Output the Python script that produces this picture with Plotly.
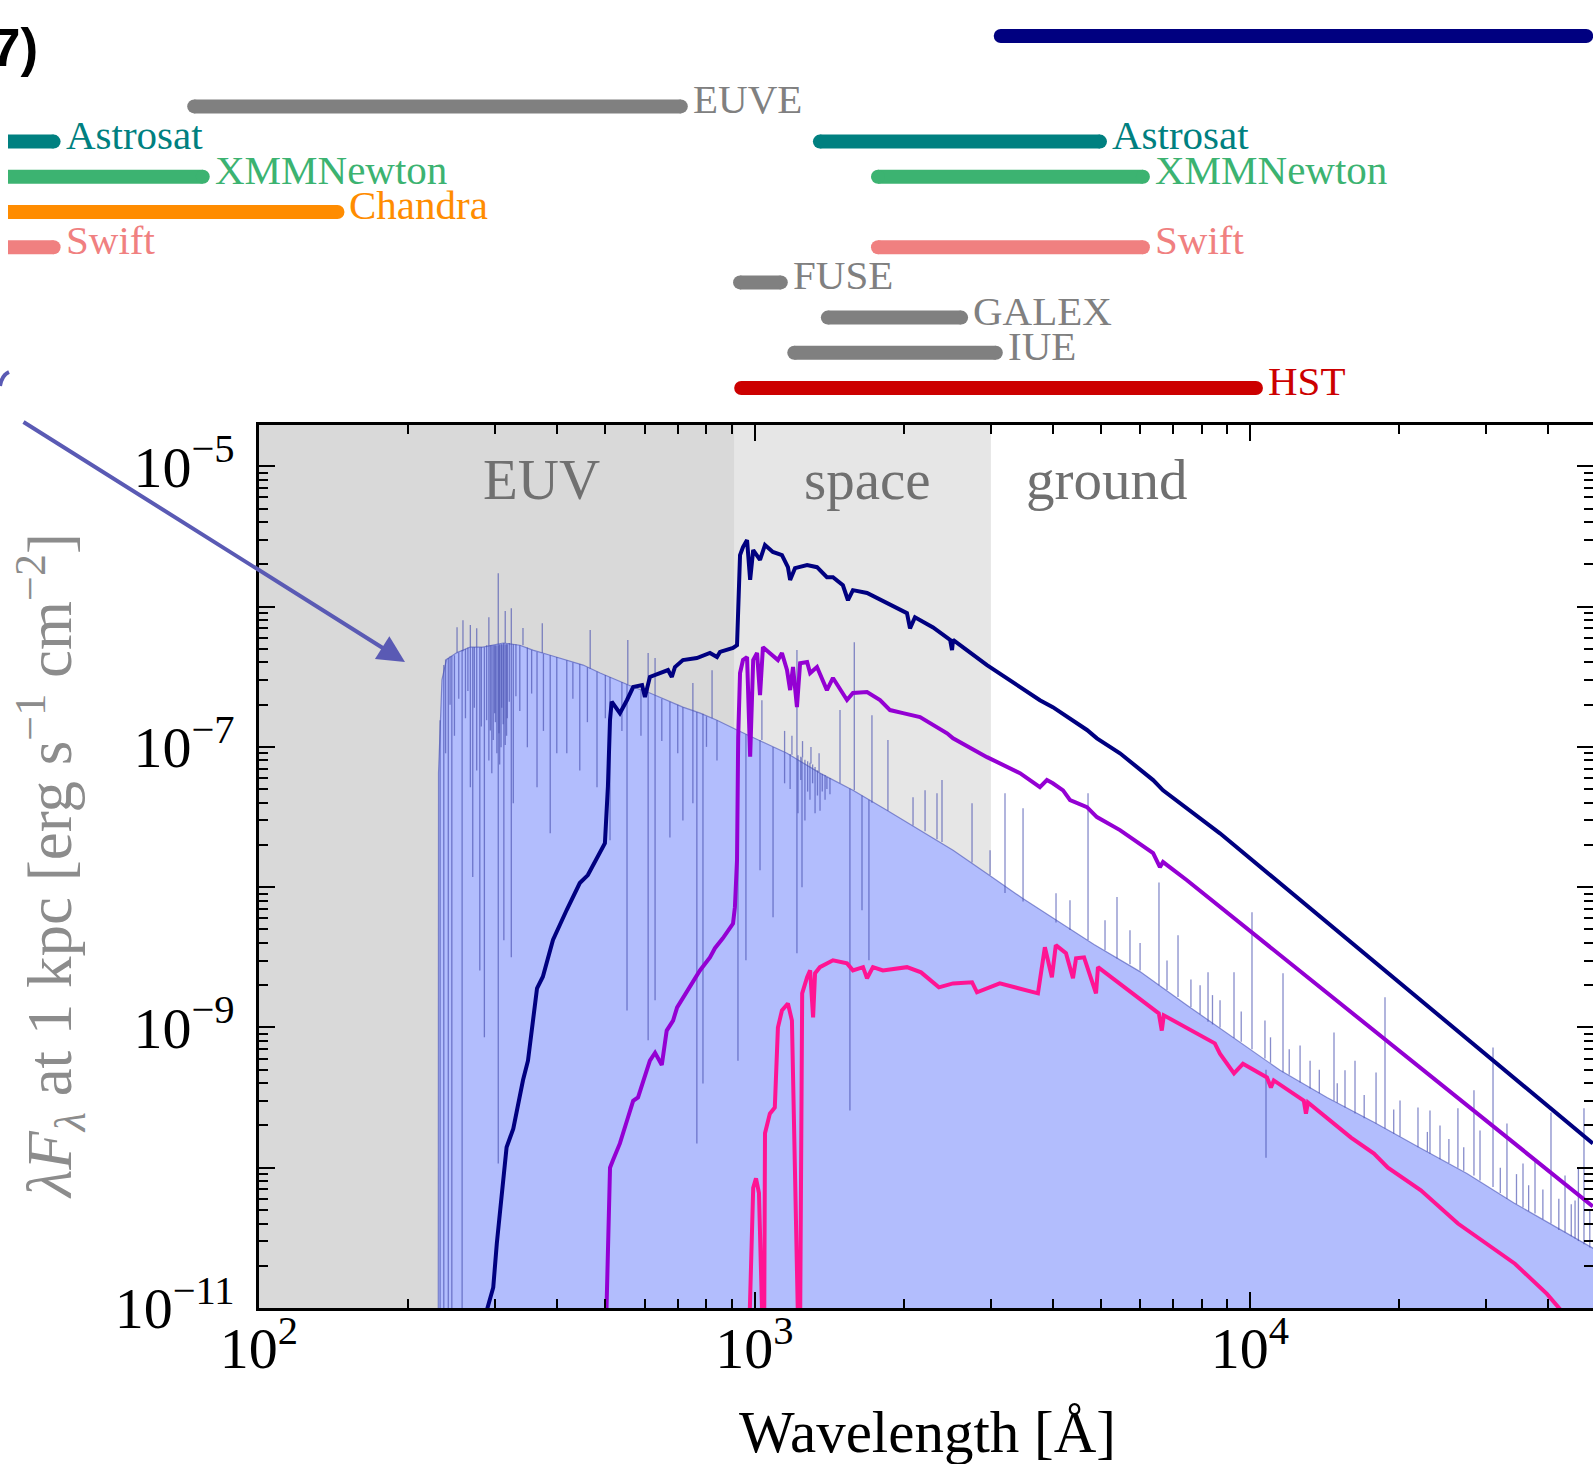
import numpy as np
import plotly.graph_objects as go

# ---------------- data ----------------
# instrument wavelength coverage [Angstrom]
inst_names = ["", "EUVE", "Astrosat", "XMMNewton", "Chandra", "Swift",
              "Astrosat", "XMMNewton", "Swift", "FUSE", "GALEX", "IUE", "HST"]
inst_lo = [3140, 74, 1.5, 1.0, 1.2, 1.2, 1355, 1775, 1775, 935, 1406, 1203, 940]
inst_hi = [47700, 710, 38.5, 77, 144, 38.5, 4980, 6080, 6080, 1130, 2612, 3069, 10280]
inst_row = [0, 2, 3, 4, 5, 6, 3, 4, 6, 7, 8, 9, 10]
inst_color = ["#000080", "#808080", "#008080", "#3cb371", "#ff8c00", "#f08080",
              "#008080", "#3cb371", "#f08080", "#808080", "#808080", "#808080", "#cc0000"]

# wavelength regimes
region_names = ["EUV", "space", "ground"]
region_edges = [100, 912, 3000, 60000]
region_label_lam = [371, 1687, 5140]

# hot star spectrum (filled) - continuum envelope
env_lam = [230, 230.3, 234, 239, 251, 267, 283, 311, 336, 357,
           387, 418, 451, 488, 528, 569, 615, 666, 717, 777,
           840, 922, 994, 1163, 1356, 1580, 1850, 2158, 2516, 3013,
           3480, 4844, 5996, 7460, 9283, 11500, 14300, 17790, 22010, 27400,
           34100, 42500, 50800]
env_flux = [5e-12, 6.5e-8, 3.0e-7, 4.2e-7, 4.7e-7, 5.15e-7, 5.15e-7, 5.5e-7, 5.3e-7, 4.9e-7,
            4.5e-7, 4.16e-7, 3.83e-7, 3.36e-7, 3.0e-7, 2.67e-7, 2.42e-7, 2.16e-7, 1.92e-7, 1.74e-7,
            1.55e-7, 1.32e-7, 1.17e-7, 9.0e-8, 6.5e-8, 4.9e-8, 3.53e-8, 2.54e-8, 1.83e-8, 1.18e-8,
            8.3e-9, 3.9e-9, 2.5e-9, 1.44e-9, 8.38e-10, 4.95e-10, 3.17e-10, 2.11e-10, 1.39e-10, 9.1e-11,
            5.6e-11, 3.56e-11, 2.5e-11]

# individual lines of the hot star spectrum: wavelength, continuum level, line tip
spike_lam = [232, 236, 241, 245, 257, 267, 270, 275, 279, 285,
             288, 291, 293, 297, 299, 302, 304, 305, 308, 311,
             312, 314, 317, 323, 326, 348, 364, 387, 399, 418,
             444, 481, 511, 553, 610, 630, 675, 717, 751, 765,
             787, 840, 926, 961, 1026, 1090, 1218, 1224, 1247, 1264,
             1294, 1325, 1356, 1388, 1420, 1558, 1648, 1702, 10772,
             238, 243, 248, 253, 261, 264, 272, 281, 295, 300,
             306, 309, 316, 320, 330, 336, 355, 375, 430, 460,
             500, 540, 590, 650, 700, 800, 1150, 1180, 1240, 1280,
             1310, 1340, 1370, 1400,
             251, 258, 267, 275, 291, 304, 314, 323, 341, 373,
             466, 555, 610, 630, 751, 821, 1035, 1218, 1488, 1590,
             1726, 1859, 2089, 2209, 2335, 2390, 2748, 2988, 3203, 3483,
             4060, 4332, 4711, 5098, 5390, 5725, 6551, 7157, 7930, 8228,
             8700, 9284, 10093, 10720, 11658, 12620, 13220, 14775, 15550, 16290,
             17963, 18726, 20080, 21828, 23080, 24180, 26280, 28314, 29120, 30936,
             33006, 35560, 37600, 40500, 43230, 45290, 47210,
             1150, 1190, 1250, 1300, 1350, 6000, 6800, 7600, 8400, 9600,
             11000, 12000, 13800, 15000, 17000, 19500, 22800, 25200, 27000, 32000,
             34500, 36500, 39000, 42000, 44500, 46000, 48500]
spike_base = [1.55e-7, 3.83e-7, 4.3e-7, 4.44e-7, 4.9e-7, 5.14e-7, 5.14e-7, 5.14e-7, 5.14e-7, 5.14e-7,
              5.3e-7, 5.3e-7, 5.3e-7, 5.3e-7, 5.3e-7, 5.3e-7, 5.3e-7, 5.3e-7, 5.4e-7, 5.4e-7,
              5.5e-7, 5.4e-7, 5.4e-7, 5.5e-7, 5.4e-7, 5.1e-7, 4.75e-7, 4.5e-7, 4.37e-7, 4.15e-7,
              3.9e-7, 3.45e-7, 3.15e-7, 2.8e-7, 2.45e-7, 2.37e-7, 2.1e-7, 1.92e-7, 1.8e-7, 1.77e-7,
              1.72e-7, 1.55e-7, 1.31e-7, 1.23e-7, 1.12e-7, 1.0e-7, 8.7e-8, 8.7e-8, 8.4e-8, 8.1e-8,
              7.7e-8, 7.2e-8, 6.5e-8, 6.3e-8, 6.0e-8, 5.05e-8, 4.5e-8, 4.2e-8, 5.0e-10,
              4.2e-7, 4.4e-7, 4.5e-7, 4.7e-7, 5.0e-7, 5.1e-7, 5.15e-7, 5.15e-7, 5.3e-7, 5.3e-7,
              5.4e-7, 5.4e-7, 5.4e-7, 5.5e-7, 5.4e-7, 5.3e-7, 4.9e-7, 4.6e-7, 4.0e-7, 3.7e-7,
              3.25e-7, 2.9e-7, 2.55e-7, 2.2e-7, 2.0e-7, 1.65e-7, 9.1e-8, 8.9e-8, 8.5e-8, 7.9e-8,
              7.5e-8, 6.8e-8, 6.4e-8, 6.1e-8,
              4.7e-7, 4.8e-7, 5.14e-7, 5.14e-7, 5.3e-7, 5.3e-7, 5.5e-7, 5.5e-7, 5.3e-7, 4.66e-7,
              3.6e-7, 2.8e-7, 2.45e-7, 2.37e-7, 1.8e-7, 1.6e-7, 1.12e-7, 8.7e-8, 5.5e-8, 4.9e-8,
              4.0e-8, 3.5e-8, 2.75e-8, 2.5e-8, 2.2e-8, 2.1e-8, 1.5e-8, 1.22e-8, 9.1e-9, 7.9e-9,
              5.6e-9, 4.95e-9, 4.2e-9, 3.55e-9, 3.1e-9, 2.82e-9, 2.0e-9, 1.65e-9, 1.24e-9, 1.1e-9,
              1.0e-9, 8.4e-10, 7.0e-10, 6.0e-10, 4.8e-10, 4.05e-10, 3.67e-10, 3.0e-10, 2.69e-10, 2.44e-10,
              2.07e-10, 1.9e-10, 1.67e-10, 1.4e-10, 1.26e-10, 1.15e-10, 1.0e-10, 8.8e-11, 8.1e-11, 7.3e-11,
              6.0e-11, 5.2e-11, 4.71e-11, 4.0e-11, 3.45e-11, 3.13e-11, 2.85e-11,
              9.1e-8, 8.8e-8, 8.4e-8, 7.6e-8, 6.6e-8, 2.55e-9, 1.85e-9, 1.4e-9, 1.05e-9, 7.9e-10,
              5.6e-10, 4.6e-10, 3.4e-10, 2.9e-10, 2.25e-10, 1.75e-10, 1.3e-10, 1.08e-10, 9.5e-11, 6.6e-11,
              5.5e-11, 4.9e-11, 4.3e-11, 3.6e-11, 3.25e-11, 3.0e-11, 2.7e-11]
spike_tip = [5e-12, 5e-12, 5e-12, 5e-12, 5e-12, 5.15e-8, 1.18e-8, 6.8e-8, 2.55e-9, 8.5e-10,
             1.55e-7, 8.0e-8, 1.31e-7, 1.12e-7, 1.74e-7, 9.0e-8, 1.07e-10, 1.25e-7, 9.95e-8, 1.45e-7,
             4.19e-9, 1.03e-7, 1.6e-7, 3.16e-9, 3.96e-8, 9.95e-8, 5.15e-8, 2.42e-8, 9.0e-8, 9.0e-8,
             6.8e-8, 5.15e-8, 2.16e-8, 1.32e-9, 8.1e-10, 1.56e-9, 2.26e-8, 2.99e-8, 3.96e-8, 1.49e-10,
             3.99e-10, 8.0e-8, 5.8e-10, 3.01e-9, 1.32e-8, 6.11e-9, 3.38e-9, 3.36e-8, 1.0e-8, 2.99e-8,
             4.2e-8, 3.36e-8, 3.5e-8, 4.2e-8, 4.6e-8, 2.56e-10, 6.85e-9, 3.01e-9, 1.18e-10,
             9.0e-8, 2.0e-7, 1.2e-7, 2.2e-7, 1.6e-7, 2.5e-7, 1.9e-7, 1.4e-7, 6.5e-8, 1.5e-7,
             7.5e-8, 1.9e-7, 1.2e-7, 2.1e-7, 2.3e-7, 1.8e-7, 2.4e-7, 1.3e-7, 2.2e-7, 1.5e-7,
             1.6e-7, 1.3e-7, 1.2e-7, 1.1e-7, 9.0e-8, 1.0e-7, 5.5e-8, 5.0e-8, 5.8e-8, 4.8e-8,
             5.5e-8, 4.5e-8, 4.8e-8, 5.0e-8,
             7.14e-7, 8.0e-7, 7.38e-7, 7.0e-7, 8.41e-7, 1.73e-6, 9.3e-7, 9.75e-7, 7.03e-7, 7.62e-7,
             6.8e-7, 5.77e-7, 4.66e-7, 4.3e-7, 2.85e-7, 3.52e-7, 2.15e-7, 4.9e-7, 1.83e-7, 5.58e-7,
             1.68e-7, 1.12e-7, 4.37e-8, 4.9e-8, 4.67e-8, 5.8e-8, 3.96e-8, 1.83e-8, 4.67e-8, 3.65e-8,
             9.06e-9, 8.07e-9, 4.67e-8, 5.8e-9, 8.5e-9, 4.93e-9, 1.08e-8, 4.54e-9, 2.0e-9, 2.47e-9,
             1.56e-9, 2.47e-9, 6.63e-9, 1.12e-9, 2.43e-9, 7.43e-10, 5.8e-10, 9.2e-10, 4.95e-10, 5.8e-10,
             4.78e-10, 1.64e-9, 3.02e-10, 2.69e-10, 2.56e-10, 2.0e-10, 2.65e-10, 3.56e-10, 1.84e-10, 7.2e-10,
             2.07e-10, 1.07e-10, 1.12e-10, 2.48e-10, 8.8e-11, 5.85e-11, 2.65e-10,
             1.3e-7, 1.2e-7, 1.1e-7, 1.0e-7, 9.0e-8, 4.0e-9, 3.0e-9, 2.2e-9, 1.7e-9, 1.3e-9,
             8.5e-10, 7.0e-10, 5.0e-10, 4.0e-10, 3.3e-10, 2.6e-10, 1.8e-10, 1.6e-10, 1.4e-10, 1.0e-10,
             9.0e-11, 7.5e-11, 7.0e-11, 6.0e-11, 5.5e-11, 1.0e-10, 5.0e-11]

# model spectra (lambda F_lambda at 1 kpc)
navy_lam = [284, 297, 302, 316, 326, 341, 349, 364, 374, 392,
            418, 444, 461, 481, 499, 506, 511, 515, 535, 553,
            569, 593, 601, 615, 644, 669, 681, 691, 717, 765,
            813, 840, 852, 905, 922, 935, 948, 966, 980, 994,
            1026, 1050, 1089, 1136, 1168, 1180, 1207, 1277, 1337, 1400,
            1440, 1508, 1544, 1580, 1687, 1850, 2031, 2060, 2108, 2293,
            2482, 2504, 2516, 2946, 3434, 3767, 4000, 4688, 4910, 5465,
            6375, 6675, 8696, 49200]
navy_flux = [8e-12, 1.4e-11, 2.9e-11, 1.4e-10, 1.9e-10, 4.2e-10, 5.8e-10, 1.9e-9, 2.3e-9, 4.2e-9,
             6.9e-9, 1.07e-8, 1.22e-8, 1.64e-8, 2.06e-8, 5.2e-8, 1.56e-7, 2.1e-7, 1.74e-7, 2.16e-7,
             2.67e-7, 2.76e-7, 2.27e-7, 3.15e-7, 3.36e-7, 3.53e-7, 3.15e-7, 3.71e-7, 4.16e-7, 4.3e-7,
             4.67e-7, 4.37e-7, 4.75e-7, 5.07e-7, 5.3e-7, 2.33e-6, 2.66e-6, 2.98e-6, 1.55e-6, 2.53e-6,
             2.15e-6, 2.75e-6, 2.45e-6, 2.33e-6, 1.91e-6, 1.55e-6, 1.88e-6, 1.98e-6, 1.91e-6, 1.62e-6,
             1.62e-6, 1.42e-6, 1.11e-6, 1.31e-6, 1.25e-6, 1.06e-6, 8.98e-7, 7.0e-7, 8.4e-7, 7.1e-7,
             5.8e-7, 4.9e-7, 5.8e-7, 3.83e-7, 2.67e-7, 2.15e-7, 1.92e-7, 1.32e-7, 1.15e-7, 9.0e-8,
             5.8e-8, 4.9e-8, 2.42e-8, 1.49e-10]

purple_lam = [502, 511, 518, 535, 553, 569, 582, 596, 615, 630,
              650, 665, 685, 698, 718, 748, 776, 813, 832, 863,
              905, 913, 922, 927, 935, 948, 966, 980, 994, 1012,
              1026, 1040, 1074, 1115, 1136, 1163, 1180, 1196, 1218, 1236,
              1277, 1295, 1337, 1375, 1400, 1440, 1537, 1580, 1687, 1792,
              1877, 1994, 2158, 2447, 2516, 2946, 3434, 3767, 3891, 4000,
              4195, 4334, 4688, 4910, 5465, 6375, 6580, 6675, 7460, 49200]
purple_flux = [8e-12, 1.0e-10, 1.13e-10, 1.49e-10, 2.17e-10, 3.0e-10, 3.17e-10, 4.19e-10, 5.8e-10, 6.6e-10,
               5.4e-10, 9.5e-10, 1.12e-9, 1.39e-9, 1.64e-9, 2.06e-9, 2.55e-9, 3.16e-9, 3.67e-9, 4.32e-9,
               5.5e-9, 7.2e-9, 1.56e-8, 1.17e-7, 3.36e-7, 4.16e-7, 4.37e-7, 8.5e-8, 4.16e-7, 4.67e-7,
               2.34e-7, 5.14e-7, 4.67e-7, 4.16e-7, 4.67e-7, 3.53e-7, 2.54e-7, 3.71e-7, 1.92e-7, 3.95e-7,
               4.02e-7, 3.36e-7, 3.71e-7, 2.99e-7, 2.54e-7, 3.1e-7, 2.16e-7, 2.42e-7, 2.46e-7, 2.16e-7,
               1.83e-7, 1.74e-7, 1.63e-7, 1.25e-7, 1.15e-7, 8.45e-8, 6.5e-8, 5.16e-8, 5.8e-8, 5.5e-8,
               4.9e-8, 4.17e-8, 3.72e-8, 3.16e-8, 2.55e-8, 1.75e-8, 1.39e-8, 1.51e-8, 1.12e-8, 5.3e-11]

pink_lam = [976, 994, 1007, 1021, 1038, 1046, 1050, 1074, 1099, 1115,
            1136, 1168, 1190, 1207, 1225, 1236, 1248, 1277, 1295, 1313,
            1325, 1355, 1440, 1537, 1580, 1656, 1687, 1734, 1816, 2031,
            2168, 2356, 2516, 2748, 2812, 3126, 3733, 3855, 3983, 4056,
            4252, 4393, 4456, 4625, 4889, 4934, 6546, 6637, 6699, 8491,
            8696, 9283, 9678, 10820, 11020, 11170, 12840, 12970, 13090, 15990,
            17790, 18980, 22120, 26280, 29400, 34250, 39740, 44250]
pink_flux = [7e-12, 7.2e-11, 8.4e-11, 6.6e-11, 7e-12, 7e-12, 1.76e-10, 2.43e-10, 2.69e-10, 1.0e-9,
             1.32e-9, 1.48e-9, 1.12e-9, 1.13e-10, 7e-12, 7e-12, 1.75e-9, 2.28e-9, 2.55e-9, 1.18e-9,
             2.43e-9, 2.69e-9, 3.01e-9, 2.86e-9, 2.55e-9, 2.69e-9, 2.24e-9, 2.69e-9, 2.55e-9, 2.69e-9,
             2.47e-9, 1.93e-9, 2.06e-9, 2.1e-9, 1.78e-9, 2.06e-9, 1.75e-9, 3.73e-9, 2.28e-9, 3.86e-9,
             3.38e-9, 2.24e-9, 3.11e-9, 3.16e-9, 1.75e-9, 2.69e-9, 1.26e-9, 9.5e-10, 1.22e-9, 7.7e-10,
             6.5e-10, 4.7e-10, 5.5e-10, 4.4e-10, 3.73e-10, 4.19e-10, 3.01e-10, 2.43e-10, 2.92e-10, 1.64e-10,
             1.26e-10, 1.0e-10, 6.9e-11, 4.0e-11, 3.0e-11, 2.07e-11, 1.26e-11, 8.1e-12]

x_tick_vals = [1e2, 1e3, 1e4]
x_tick_text = ["10<sup>2</sup>", "10<sup>3</sup>", "10<sup>4</sup>"]
y_tick_vals = [1e-11, 1e-10, 1e-9, 1e-8, 1e-7, 1e-6, 1e-5]
y_tick_text = ["10<sup>\u221211</sup>", "", "10<sup>\u22129</sup>", "",
               "10<sup>\u22127</sup>", "", "10<sup>\u22125</sup>"]

# ---------------- figure ----------------
W, H = 1593, 1464
MB = 156
PH = H - MB          # plotting height (margin top 0)
SERIF = "Liberation Serif"

def py(p):           # pixel row -> paper y
    return 1 - p / PH

main_dom = [0, py(425)]
fig = go.Figure()

# regime shading (EUV / space) as filled bands spanning the axis
shade = ["#d9d9d9", "#e6e6e6"]
for i in range(2):
    x0, x1 = region_edges[i], region_edges[i + 1]
    fig.add_trace(go.Scatter(x=[x0, x0, x1, x1], y=[1e-13, 1e-3, 1e-3, 1e-13],
                             mode="lines", fill="toself", fillcolor=shade[i],
                             line=dict(width=0), hoverinfo="skip"))

# filled hot-star spectrum
fig.add_trace(go.Scatter(
    x=env_lam + [env_lam[-1]], y=env_flux + [5e-12], mode="lines",
    fill="toself", fillcolor="#b2bdfd", line=dict(width=0), hoverinfo="skip"))
fig.add_trace(go.Scatter(
    x=env_lam, y=env_flux, mode="lines",
    line=dict(color="rgba(70,80,180,0.6)", width=1.2), hoverinfo="skip"))
sx, sy = [], []
for lam, b, t in zip(spike_lam, spike_base, spike_tip):
    sx += [lam, lam, None]
    sy += [b, t, None]
fig.add_trace(go.Scatter(x=sx, y=sy, mode="lines",
                         line=dict(color="rgba(70,78,175,0.65)", width=1.3),
                         hoverinfo="skip"))

for lam, fl, col in [(navy_lam, navy_flux, "#000080"),
                     (purple_lam, purple_flux, "#9400d3"),
                     (pink_lam, pink_flux, "#ff1493")]:
    fig.add_trace(go.Scatter(x=lam, y=fl, mode="lines",
                             line=dict(color=col, width=4)))

# instrument coverage bars
for name, lo, hi, row, col in zip(inst_names, inst_lo, inst_hi, inst_row, inst_color):
    fig.add_trace(go.Scatter(x=[lo, hi], y=[row, row], xaxis="x2", yaxis="y2",
                             mode="lines+markers",
                             line=dict(color=col, width=14),
                             marker=dict(color=col, size=14)))
    if name:
        fig.add_annotation(x=np.log10(hi), y=row, xref="x2", yref="y2",
                           text=name, showarrow=False, xanchor="left", yanchor="middle",
                           xshift=10, yshift=7,
                           font=dict(family=SERIF, size=41, color=col))

for i, name in enumerate(region_names):
    fig.add_annotation(x=np.log10(region_label_lam[i]), y=py(479), xref="x", yref="paper",
                       text=name, showarrow=False, xanchor="center", yanchor="middle",
                       font=dict(family=SERIF, size=57, color="#707070"))

# arrow
fig.add_annotation(x=405 / W, y=py(662), xref="paper", yref="paper",
                   ax=-383, ay=-241, text="", showarrow=True,
                   arrowcolor="#5a5ab4", arrowwidth=4, arrowhead=2, arrowsize=1.35,
                   standoff=0)
fig.add_shape(type="path", xref="paper", yref="paper",
              path=f"M 0,{py(386)} Q {2/W},{py(375)} {9/W},{py(372)}",
              line=dict(color="#5a5ab4", width=4))

fig.add_annotation(x=40 / W, y=py(47), xref="paper", yref="paper",
                   text="<b>7)</b>", showarrow=False, xanchor="right", yanchor="middle",
                   font=dict(family="Liberation Sans", size=53, color="black"))

# axis titles
fig.add_annotation(x=50 / W, y=py(866), xref="paper", yref="paper",
                   text="<i>\u03bbF</i><sub><i>\u03bb</i></sub> at 1 kpc [erg s<sup>\u22121</sup> cm<sup>\u22122</sup>]",
                   textangle=-90, showarrow=False, xanchor="center", yanchor="middle",
                   font=dict(family=SERIF, size=63, color="#8c8c8c"))
fig.add_annotation(x=927 / W, y=py(1432), xref="paper", yref="paper",
                   text="Wavelength [\u00c5]", showarrow=False,
                   xanchor="center", yanchor="middle",
                   font=dict(family=SERIF, size=59, color="black"))

axis_common = dict(showline=True, linecolor="black", linewidth=2.5, mirror="allticks",
                   ticks="inside", ticklen=16, tickwidth=2, tickcolor="black",
                   showgrid=False, zeroline=False, automargin=False,
                   tickfont=dict(family=SERIF, size=58, color="black"),
                   minor=dict(ticks="inside", ticklen=9, tickwidth=2, tickcolor="black",
                              dtick="D1", showgrid=False))

fig.update_layout(
    width=W, height=H, margin=dict(l=0, r=0, t=0, b=MB),
    paper_bgcolor="white", plot_bgcolor="white", showlegend=False,
    xaxis=dict(type="log", range=[2, 2 + (W - 259) / 495.5], domain=[259 / W, 1],
               anchor="y", tickvals=x_tick_vals, ticktext=x_tick_text,
               ticklabelstandoff=-12, **axis_common),
    yaxis=dict(type="log", range=[-11, -5 + (466.3 - 425) / 140.2], domain=main_dom,
               anchor="x", tickvals=y_tick_vals, ticktext=y_tick_text,
               ticklabelstandoff=10, **axis_common),
    xaxis2=dict(type="log", domain=[8 / W, 1],
                range=[2 + (8 - 259) / 495.5, 2 + (W - 259) / 495.5],
                anchor="y2", visible=False),
    yaxis2=dict(domain=[py(425), 1], range=[(425 - 36) / 35.2, -36 / 35.2],
                anchor="x2", visible=False),
)

fig.write_html("out.html", config={"displayModeBar": False},
               post_script="document.body.style.margin='0px';document.body.style.overflow='hidden';")
